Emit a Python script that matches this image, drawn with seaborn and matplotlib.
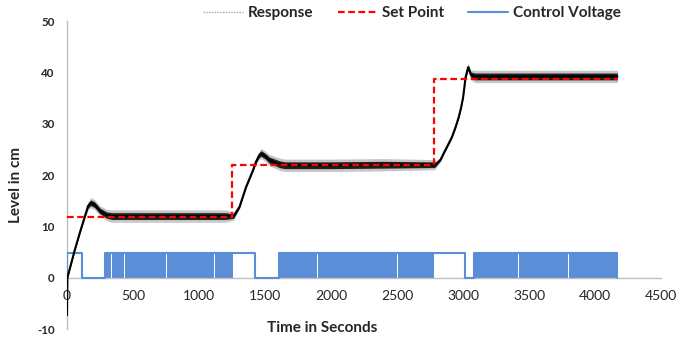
import numpy as np
import pandas as pd
import matplotlib
matplotlib.use("Agg")
import matplotlib.pyplot as plt
from matplotlib.lines import Line2D
import seaborn as sns

# ---------------- data ----------------
resp_t = [0, 3, 60, 100, 136, 160, 180, 210, 250, 300,
          340, 600, 900, 1200, 1262, 1307, 1357, 1407, 1432, 1455,
          1470, 1500, 1533, 1610, 1650, 2000, 2400, 2785, 2800, 2830,
          2855, 2885, 2916, 2942, 2968, 2986, 3000, 3010, 3019, 3039,
          3060, 3090, 3400, 3800, 4170]
resp_v = [-7.3, 0, 5.5, 9.0, 12.0, 14.0, 14.6, 14.2, 13.0, 12.2,
          12.0, 12.0, 12.0, 12.0, 12.0, 13.8, 17.7, 20.8, 22.6, 23.8,
          24.2, 23.7, 22.9, 22.1, 21.9, 21.9, 22.0, 22.0, 22.2, 23.0,
          24.3, 25.8, 27.4, 29.2, 31.3, 33.2, 35.0, 37.0, 39.0, 41.0,
          39.5, 39.2, 39.2, 39.2, 39.2]
# half-width of the noise band around the response
resp_spread = [0.2, 0.2, 0.3, 0.3, 0.4, 0.8, 1.0, 1.0, 1.0, 1.1,
               1.2, 1.2, 1.2, 1.2, 0.8, 0.4, 0.3, 0.3, 0.5, 0.8,
               1.0, 1.0, 1.1, 1.2, 1.2, 1.2, 1.2, 1.0, 0.6, 0.4,
               0.3, 0.3, 0.3, 0.3, 0.3, 0.3, 0.3, 0.3, 0.4, 0.8,
               1.0, 1.2, 1.2, 1.2, 1.2]

sp_t = [0, 1252, 2780, 4175]
sp_v = [11.9, 21.9, 38.7, 38.7]

# control voltage outline (step signal)
ctrl_t = [0, 0, 116, 290, 1256, 1422, 1604, 2782, 3014, 3087, 4167]
ctrl_v = [0, 4.8, 0, 4.8, 4.8, 0, 4.8, 4.8, 0, 4.8, 0]
ctrl_high = 4.8
# densely switching (PWM) intervals of the control voltage
dense_start = [290, 338, 438, 553, 591, 755, 1120,
               1604, 1900, 2404, 2504, 2719,
               3087, 3147, 3260, 3310, 3423, 3575, 3801, 3977]
dense_end = [335, 435, 550, 588, 752, 1117, 1256,
             1897, 2401, 2501, 2716, 2782,
             3144, 3257, 3307, 3420, 3572, 3798, 3974, 4167]

x_ticks = [0, 500, 1000, 1500, 2000, 2500, 3000, 3500, 4000, 4500]
y_ticks = [-10, 0, 10, 20, 30, 40, 50]

# ---------------- styling ----------------
sns.set_style("white")
plt.rcParams["font.family"] = ["Lato", "DejaVu Sans"]

blue = "#5B8ED6"
red = "#FF0000"
grey = "#BFBFBF"

fig = plt.figure(figsize=(6.76, 3.45), dpi=100)
ax = fig.add_axes([67 / 676, 1 - 329 / 345, (661 - 67) / 676, (329 - 21) / 345])

# control voltage
for s, e in zip(dense_start, dense_end):
    ax.fill_between([s, e], [0, 0], [ctrl_high, ctrl_high], color=blue,
                    linewidth=0, zorder=2)
df_c = pd.DataFrame({"t": ctrl_t, "v": ctrl_v})
sns.lineplot(data=df_c, x="t", y="v", ax=ax, estimator=None, sort=False,
             drawstyle="steps-post", color=blue, linewidth=1.5, zorder=3)

# response with noise band
rt = np.array(resp_t, dtype=float)
rv = np.array(resp_v, dtype=float)
rs = np.array(resp_spread, dtype=float)
ax.fill_between(rt, rv - rs, rv + rs, color="#444444", alpha=0.3,
                linewidth=0, zorder=4)
ax.fill_between(rt, rv - rs * 0.55, rv + rs * 0.55, color="black",
                alpha=0.85, linewidth=0, zorder=4)
df_r = pd.DataFrame({"t": resp_t, "v": resp_v})
sns.lineplot(data=df_r, x="t", y="v", ax=ax, estimator=None, sort=False,
             color="black", linewidth=1.5, zorder=5)

# set point
df_s = pd.DataFrame({"t": sp_t, "v": sp_v})
sns.lineplot(data=df_s, x="t", y="v", ax=ax, estimator=None, sort=False,
             drawstyle="steps-post", color=red, linewidth=1.6,
             linestyle=(0, (3, 1.6)), zorder=6)

# axes
ax.set_xlim(0, 4500)
ax.set_ylim(-10, 50)
ax.set_xticks(x_ticks)
ax.set_yticks(y_ticks)
ax.set_xticklabels([str(v) for v in x_ticks], fontsize=8.3, fontweight="bold")
ax.set_yticklabels([str(v) for v in y_ticks], fontsize=8.3, fontweight="bold")
ax.tick_params(axis="both", length=0)
ax.tick_params(axis="x", pad=9)
ax.tick_params(axis="y", pad=9)
for side in ["top", "right"]:
    ax.spines[side].set_visible(False)
ax.spines["bottom"].set_position(("data", 0))
ax.spines["bottom"].set_color(grey)
ax.spines["left"].set_color(grey)
ax.spines["bottom"].set_linewidth(1.0)
ax.spines["left"].set_linewidth(1.0)
ax.grid(False)

ax.set_xlabel("Time in Seconds", fontsize=11, fontweight="bold", va="center")
ax.xaxis.set_label_coords((322.5 - 67) / 594, (329 - 328) / 308)
ax.set_ylabel("Level in cm", fontsize=11, fontweight="bold", va="center")
ax.yaxis.set_label_coords((16 - 67) / 594, (329 - 185) / 308)

handles = [
    Line2D([], [], color="#A6A6A6", linestyle=(0, (1, 1)), linewidth=1.0),
    Line2D([], [], color=red, linestyle=(0, (3, 1.6)), linewidth=1.6),
    Line2D([], [], color=blue, linewidth=1.5),
]
labels = ["Response", "Set Point", "Control Voltage"]
leg = fig.legend(handles, labels, loc="center", bbox_to_anchor=(412 / 676, 1 - 13 / 345),
                 ncol=3, frameon=False, handlelength=2.6, handletextpad=0.3,
                 columnspacing=1.6, borderpad=0, borderaxespad=0,
                 prop={"size": 11, "weight": "bold"})

fig.savefig("out.png", dpi=100)
